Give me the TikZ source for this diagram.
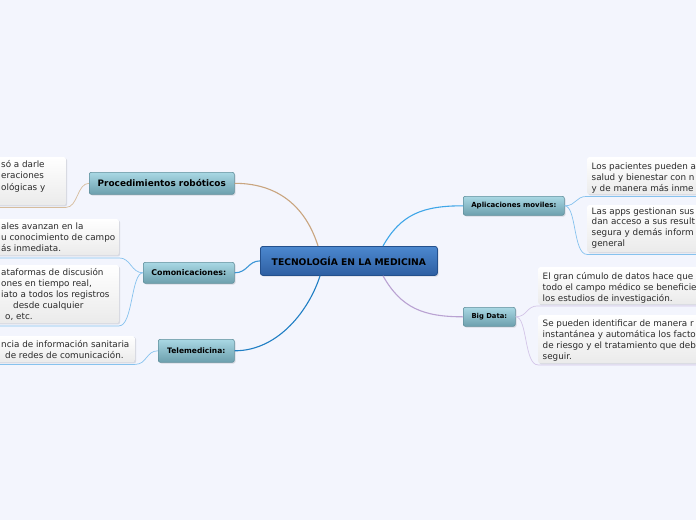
\documentclass[tikz,border=0pt]{standalone}
\usepackage{fontspec}
\setmainfont{DejaVu Sans}
\usetikzlibrary{calc}
\definecolor{bg}{HTML}{F3F5FD}
\definecolor{ctop}{HTML}{4C88CF}
\definecolor{cbot}{HTML}{2E5FA2}
\definecolor{cborder}{HTML}{24508C}
\definecolor{btop}{HTML}{A9D8E4}
\definecolor{bbot}{HTML}{6C9FAD}
\definecolor{bborder}{HTML}{5F8E9B}
\definecolor{tanc}{HTML}{C9A57F}
\definecolor{tanl}{HTML}{D6BC9C}
\definecolor{comc}{HTML}{3C96D6}
\definecolor{telec}{HTML}{1F7EC4}
\definecolor{appc}{HTML}{3FA6E8}
\definecolor{bluel}{HTML}{86C2EE}
\definecolor{bigc}{HTML}{B9A2D2}
\definecolor{purl}{HTML}{D3C5E8}
\definecolor{txt}{HTML}{2A2A2A}
\definecolor{shad}{HTML}{D8DAE2}
\tikzset{
  softshadow/.style={preaction={fill=shad, transform canvas={xshift=1.2pt, yshift=-1.2pt}}},
  central/.style={draw=cborder, line width=0.8pt, rounded corners=2.5pt,
    top color=ctop, bottom color=cbot, inner sep=0pt, anchor=north west,
    font=\fontsize{9.2}{10}\selectfont\bfseries, text=black, softshadow},
  branch/.style={draw=bborder, line width=0.6pt, rounded corners=2pt,
    top color=btop, bottom color=bbot, inner sep=0pt, anchor=north west, text=black, softshadow},
  leafbox/.style={rounded corners=2pt, top color=white, bottom color=black!8, inner sep=0pt, softshadow},
  ltxt/.style={font=\fontsize{8.8}{11}\selectfont, inner sep=0pt, anchor=base west, text=txt},
  mainline/.style={line width=1.1pt},
  leafline/.style={line width=0.7pt},
}
\begin{document}
\begin{tikzpicture}[x=1pt,y=-1pt]
\useasboundingbox (0,0) rectangle (696,520);
\fill[bg] (0,0) rectangle (696,520);
\clip (0,0) rectangle (696,520);

% leaf boxes
\node[leafbox, anchor=north east, minimum width=110pt, minimum height=48pt] (p1) at (66,157) {};
\node[leafbox, anchor=north east, minimum width=150pt, minimum height=36pt] (m1) at (119,219) {};
\node[leafbox, anchor=north east, minimum width=150pt, minimum height=58pt] (m2) at (119,265) {};
\node[leafbox, anchor=north east, minimum width=160pt, minimum height=26pt] (t1) at (135,336) {};
\node[leafbox, anchor=north west, minimum width=150pt, minimum height=37pt] (a1) at (587,157) {};
\node[leafbox, anchor=north west, minimum width=150pt, minimum height=47pt] (a2) at (587,205) {};
\node[leafbox, anchor=north west, minimum width=180pt, minimum height=37pt] (b1) at (538,267) {};
\node[leafbox, anchor=north west, minimum width=180pt, minimum height=48pt] (b2) at (538,315) {};

% leaf texts
\foreach \t [count=\i] in {{só a darle},{eraciones},{ológicas y}}
  \node[ltxt] (p1t\i) at (1,167.5+11.3*\i-11.3) {\t};
\foreach \t [count=\i] in {{ales avanzan en la},{u conocimiento de campo},{ás inmediata.}}
  \node[ltxt] (m1t\i) at (1,229+11.2*\i-11.2) {\t};
\node[ltxt] (m2t1) at (1,275.7) {ataformas de discusión};
\node[ltxt] (m2t2) at (1,286.6) {ones en tiempo real,};
\node[ltxt] (m2t3) at (1,297.5) {iato a todos los registros};
\node[ltxt] (m2t4) at (13,308.4) {desde cualquier};
\node[ltxt] (m2t5) at (5,319.3) {o, etc.};
\node[ltxt] (t1t1) at (1,347.7) {ncia de información sanitaria};
\node[ltxt] (t1t2) at (5,358.7) {de redes de comunicación.};
\foreach \t [count=\i] in {{Los pacientes pueden a},{salud y bienestar con n},{y de manera más inme}}
  \node[ltxt] (a1t\i) at (591.5,169+11*\i-11) {\t};
\foreach \t [count=\i] in {{Las apps gestionan sus},{dan acceso a sus result},{segura y demás inform},{general}}
  \node[ltxt] (a2t\i) at (591.5,214+10.9*\i-10.9) {\t};
\foreach \t [count=\i] in {{El gran cúmulo de datos hace que},{todo el campo médico se beneficie},{los estudios de investigación.}}
  \node[ltxt] (b1t\i) at (542.5,279+11.2*\i-11.2) {\t};
\foreach \t [count=\i] in {{Se pueden identificar de manera r},{instantánea y automática los facto},{de riesgo y el tratamiento que deb},{seguir.}}
  \node[ltxt] (b2t\i) at (542.5,326.5+11.1*\i-11.1) {\t};

% central and branch nodes
\node[central, minimum width=177pt, minimum height=29pt] (c) at (260,246) {TECNOLOGÍA EN LA MEDICINA};
\node[branch, minimum width=145pt, minimum height=22pt, font=\fontsize{8.9}{10}\selectfont\bfseries] (proc) at (89,172) {Procedimientos robóticos};
\node[branch, minimum width=91pt, minimum height=21pt, font=\fontsize{7.9}{9}\selectfont\bfseries] (com) at (143,262) {Comonicaciones:};
\node[branch, minimum width=76pt, minimum height=23pt, font=\fontsize{7.5}{9}\selectfont\bfseries] (tele) at (158,339) {Telemedicina:};
\node[branch, minimum width=101pt, minimum height=19pt, font=\fontsize{7}{8}\selectfont\bfseries] (apps) at (463,196) {Aplicaciones moviles:};
\node[branch, minimum width=52pt, minimum height=19pt, font=\fontsize{6.8}{8}\selectfont\bfseries] (big) at (463,307) {Big Data:};

% main connectors
\draw[mainline, tanc] (proc.east) .. controls +(50,0) and +(-10,-32) .. ($(c.north west)+(58,0)$);
\draw[mainline, comc] (com.east) .. controls +(13,0) and +(-12,0) .. (c.west);
\draw[mainline, telec] (tele.east) .. controls +(45,0) and +(-10,32) .. ($(c.south west)+(60,0)$);
\draw[mainline, appc] ($(c.north west)+(123,0)$) .. controls +(18,-32) and +(-40,0) .. (apps.west);
\draw[mainline, bigc] ($(c.south west)+(123,0)$) .. controls +(18,32) and +(-40,0) .. (big.west);

% leaf connectors
\draw[leafline, tanl] (proc.west) .. controls +(-12,0) and +(12,0) .. ($(p1.south east)+(0,2)$) -- ($(p1.south west)+(0,2)$);
\draw[leafline, bluel] (com.west) .. controls +(-12,0) and +(12,0) .. ($(m1.south east)+(0,2.5)$) -- ($(m1.south west)+(0,2.5)$);
\draw[leafline, bluel] (com.west) .. controls +(-12,0) and +(14,0) .. ($(m2.south east)+(0,2.5)$) -- ($(m2.south west)+(0,2.5)$);
\draw[leafline, bluel] (tele.west) .. controls +(-12,0) and +(12,0) .. ($(t1.south east)+(0,2)$) -- ($(t1.south west)+(0,2)$);
\draw[leafline, bluel] (apps.east) .. controls +(12,0) and +(-12,0) .. ($(a1.south west)+(0,2)$) -- ($(a1.south east)+(0,2)$);
\draw[leafline, bluel] (apps.east) .. controls +(12,0) and +(-14,0) .. ($(a2.south west)+(0,2)$) -- ($(a2.south east)+(0,2)$);
\draw[leafline, purl] (big.east) .. controls +(12,0) and +(-12,0) .. ($(b1.south west)+(0,1.5)$) -- ($(b1.south east)+(0,1.5)$);
\draw[leafline, purl] (big.east) .. controls +(12,0) and +(-14,0) .. ($(b2.south west)+(0,1.5)$) -- ($(b2.south east)+(0,1.5)$);
\end{tikzpicture}
\end{document}
